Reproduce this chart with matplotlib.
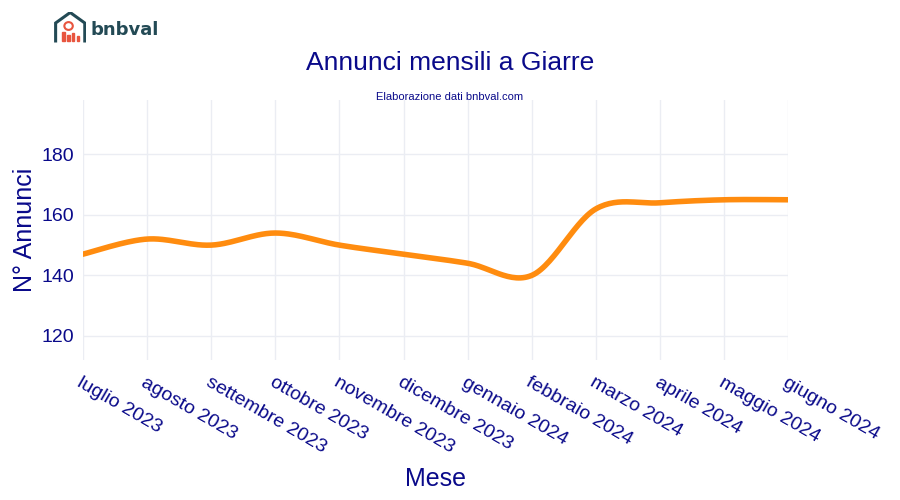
import numpy as np
import matplotlib
matplotlib.use("Agg")
from matplotlib import pyplot as plt
from matplotlib.patches import Polygon, Circle, Rectangle

mesi = ["luglio 2023", "agosto 2023", "settembre 2023", "ottobre 2023", "novembre 2023",
        "dicembre 2023", "gennaio 2024", "febbraio 2024", "marzo 2024", "aprile 2024",
        "maggio 2024", "giugno 2024"]
annunci = [147, 152, 150, 154, 150, 147, 144, 140, 162, 164, 165, 165]

navy = "#0a0a8a"

# spline di tipo cardinal per la linea (come plotly shape='spline')
def spline(x, y, n=30, t=0.5):
    x = np.asarray(x, float); y = np.asarray(y, float)
    px = np.concatenate([[x[0]], x, [x[-1]]])
    py = np.concatenate([[y[0]], y, [y[-1]]])
    xs, ys = [], []
    for i in range(1, len(px) - 2):
        m0x = t * (px[i+1] - px[i-1]); m1x = t * (px[i+2] - px[i])
        m0y = t * (py[i+1] - py[i-1]); m1y = t * (py[i+2] - py[i])
        s = np.linspace(0, 1, n)
        h00 = 2*s**3 - 3*s**2 + 1; h10 = s**3 - 2*s**2 + s
        h01 = -2*s**3 + 3*s**2; h11 = s**3 - s**2
        xs.append(h00*px[i] + h10*m0x + h01*px[i+1] + h11*m1x)
        ys.append(h00*py[i] + h10*m0y + h01*py[i+1] + h11*m1y)
    return np.concatenate(xs), np.concatenate(ys)

fig = plt.figure(figsize=(9, 5), dpi=100)
ax = fig.add_axes([0.092, 0.28, 0.784, 0.52])
xi = np.arange(len(mesi))
sx, sy = spline(xi, annunci)
ax.plot(sx, sy, color="#ff8c0f", lw=4, solid_capstyle="round")
ax.set_xlim(0, len(mesi) - 1)
ax.set_ylim(112, 198)
ax.set_yticks([120, 140, 160, 180])
ax.set_xticks(xi)
ax.set_xticklabels(mesi, rotation=-30, ha="left", va="top", rotation_mode="anchor",
                   fontsize=14, color=navy, family="Liberation Sans")
for lab in ax.get_yticklabels():
    lab.set_fontsize(14); lab.set_color(navy); lab.set_family("Liberation Sans")
ax.grid(color="#ebedf3", lw=1)
ax.tick_params(length=0, pad=6)
ax.tick_params(axis="x", pad=10)
for s in ax.spines.values():
    s.set_visible(False)
ax.set_xlabel("Mese", fontsize=18, color=navy, family="Liberation Sans")
ax.xaxis.set_label_coords(0.5, -0.41)
ax.set_ylabel("N° Annunci", fontsize=18, color=navy, family="Liberation Sans")
ax.yaxis.set_label_coords(-0.065, 0.5)

fig.text(0.5, 0.86, "Annunci mensili a Giarre", ha="center", fontsize=19, color=navy, family="Liberation Sans")
fig.text(0.5, 0.80, "Elaborazione dati bnbval.com", ha="center", fontsize=8, color=navy, family="Liberation Sans")

# logo
lg = fig.add_axes([0.06, 0.915, 0.036, 0.06])
lg.set_xlim(0, 1); lg.set_ylim(0, 1); lg.axis("off")
lg.add_patch(Polygon([[0.05, 0], [0.05, 0.65], [0.5, 1], [0.95, 0.65], [0.95, 0]], closed=False,
                     fill=False, ec="#234a55", lw=2.2))
lg.add_patch(Circle((0.45, 0.55), 0.13, fill=False, ec="#e8553f", lw=1.5))
for i, h in enumerate([0.3, 0.2, 0.25, 0.15]):
    lg.add_patch(Rectangle((0.25 + i * 0.15, 0.05), 0.08, h, color="#e8553f"))
fig.text(0.1, 0.93, "bnbval", fontsize=13, weight="bold", color="#234a55", family="DejaVu Sans")

fig.savefig("out.png")
